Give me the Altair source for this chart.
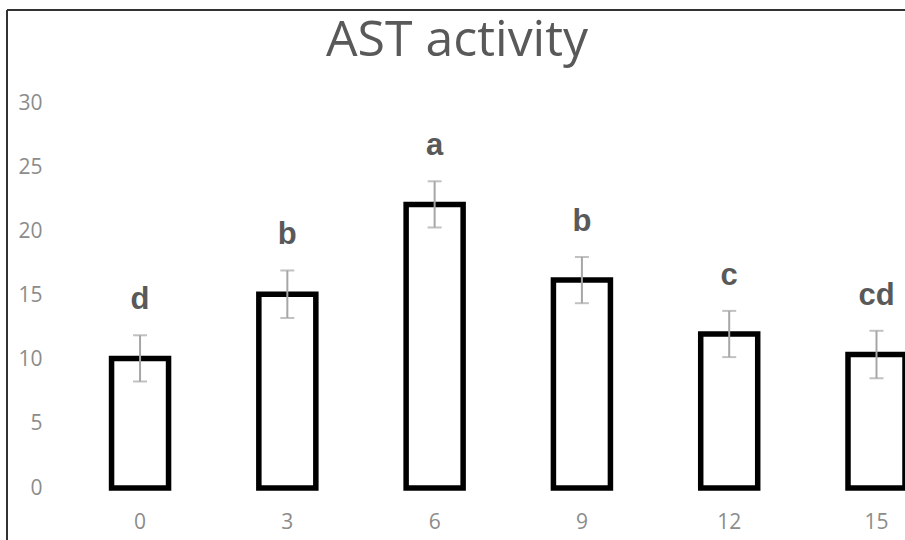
import altair as alt
import pandas as pd

# AST activity by day, with standard errors and significance letters
days = ["0", "3", "6", "9", "12", "15"]
activity = [10.1, 15.1, 22.1, 16.2, 12.0, 10.4]
error = [1.8, 1.85, 1.8, 1.8, 1.8, 1.85]
letters = ["d", "b", "a", "b", "c", "cd"]
title_text = "AST activity"

df = pd.DataFrame({"day": days, "activity": activity, "err": error, "letter": letters})
df["lo"] = df["activity"] - df["err"]
df["hi"] = df["activity"] + df["err"]

W, H = 845, 385
LEFT, TOP = 60, 103

x = alt.X(
    "day:N",
    sort=days,
    scale=alt.Scale(paddingInner=0.613, paddingOuter=0.175, align=1),
    axis=alt.Axis(
        title=None, labelAngle=0, domain=False, ticks=False, grid=False,
        labelFont="Open Sans", labelFontSize=21, labelColor="#8c8c8c",
        labelPadding=23, labelBaseline="top",
    ),
)
yscale = alt.Scale(domain=[0, 30], nice=False, zero=True)
y_axis = alt.Axis(
    title=None, values=[0, 5, 10, 15, 20, 25, 30], domain=False, ticks=False,
    grid=False, labelFont="Open Sans", labelFontSize=21, labelColor="#8c8c8c",
    labelPadding=18,
)

base = alt.Chart(df)

bars = base.mark_bar(
    fill="white", stroke="black", strokeWidth=5.5, strokeJoin="miter"
).encode(x=x, y=alt.Y("activity:Q", scale=yscale, axis=y_axis))

err_rule = base.mark_rule(color="#a6a6a6", strokeWidth=2).encode(
    x=x, y=alt.Y("lo:Q", scale=yscale), y2="hi:Q"
)
cap_hi = base.mark_tick(color="#a6a6a6", thickness=2, size=14).encode(
    x=x, y=alt.Y("hi:Q", scale=yscale)
)
cap_lo = base.mark_tick(color="#a6a6a6", thickness=2, size=14).encode(
    x=x, y=alt.Y("lo:Q", scale=yscale)
)

labels = base.mark_text(
    font="Liberation Sans", fontWeight="bold", fontSize=31, color="#595959",
    baseline="bottom", dy=-19,
).encode(x=x, y=alt.Y("hi:Q", scale=yscale), text="letter:N")

# chart title, drawn in the top padding
title = alt.Chart(alt.Data(values=[{"t": title_text}])).mark_text(
    font="Open Sans", fontSize=50, color="#595959",
    align="center", baseline="alphabetic",
).encode(text="t:N", x=alt.value(457 - LEFT), y=alt.value(56 - TOP))

# chart frame (left and top edges)
frame_left = base.mark_rule(color="#333333", strokeWidth=1.5).encode(
    x=alt.value(7 - LEFT), y=alt.value(10 - TOP), y2=alt.value(540 - TOP)
)
frame_top = base.mark_rule(color="#333333", strokeWidth=1.5).encode(
    x=alt.value(7 - LEFT), x2=alt.value(905 - LEFT), y=alt.value(10 - TOP)
)

chart = (
    alt.layer(bars, err_rule, cap_hi, cap_lo, labels, title, frame_left, frame_top)
    .properties(
        width=W, height=H,
        background="white",
        autosize=alt.AutoSizeParams(type="none"),
        padding={"left": LEFT, "top": TOP, "right": 0, "bottom": 540 - TOP - H},
    )
    .configure_view(strokeWidth=0, stroke=None)
    .configure_axis(grid=False, domain=False, ticks=False)
)

chart.save("out.html", embed_options={"renderer": "svg", "actions": False})
